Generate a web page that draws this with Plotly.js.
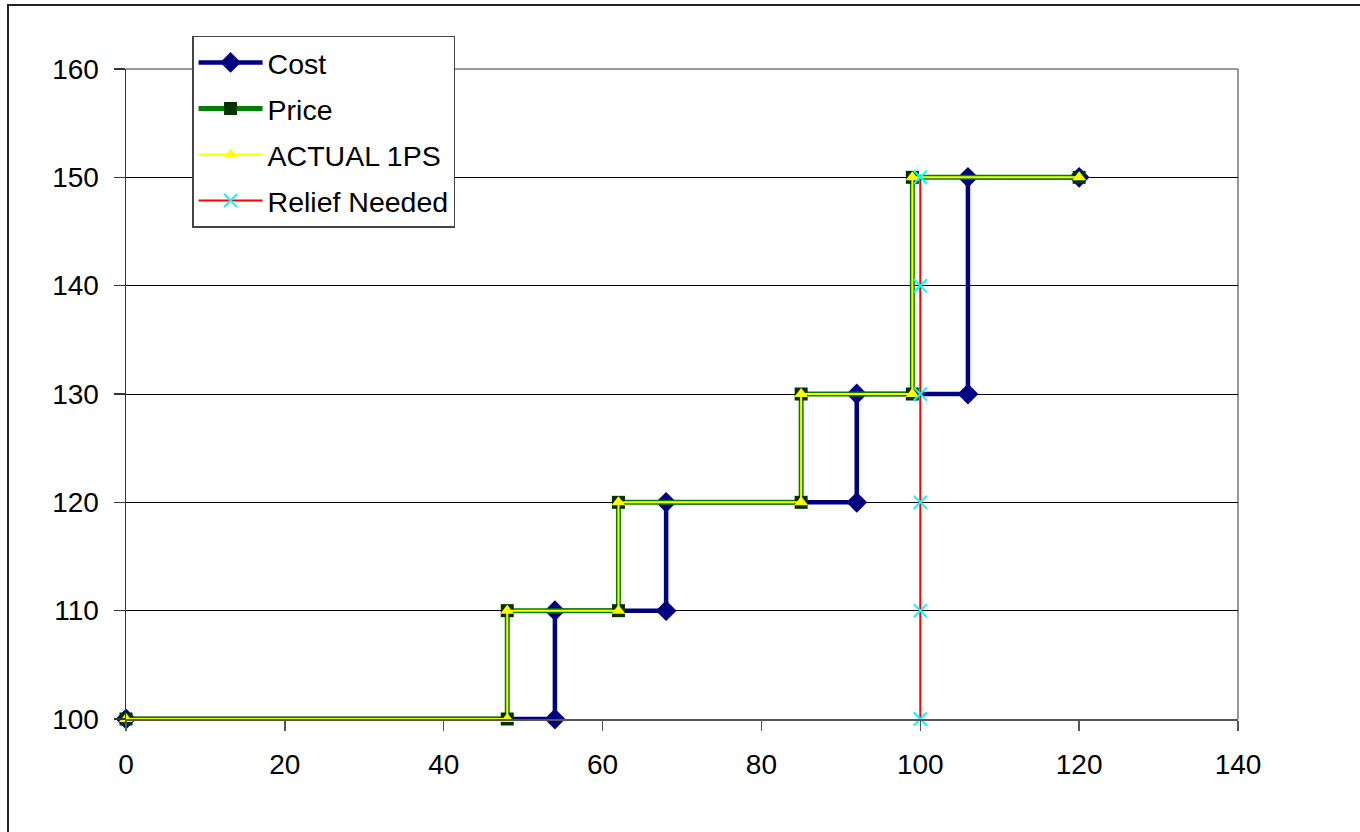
<!DOCTYPE html>
<html>
<head>
<meta charset="utf-8">
<script src="https://cdn.plot.ly/plotly-3.0.1.min.js"></script>
<style>
  html, body { margin: 0; padding: 0; background: #ffffff; overflow: hidden; }
  #chart { position: absolute; left: 0; top: 0; width: 1360px; height: 832px; }
  #frame { position: absolute; left: 7px; top: 4px; width: 1400px; height: 900px;
           border: 2px solid #222222; pointer-events: none; }
</style>
</head>
<body>
<div id="chart"></div>
<div id="frame"></div>
<script>
// ---- data ----
const costX  = [0, 54, 54, 68, 68, 92, 92, 106, 106, 120];
const costY  = [100, 100, 110, 110, 120, 120, 130, 130, 150, 150];
const priceX = [0, 48, 48, 62, 62, 85, 85, 99, 99, 120];
const priceY = [100, 100, 110, 110, 120, 120, 130, 130, 150, 150];
const actualX = [0, 48, 48, 62, 62, 85, 85, 99, 99, 120];
const actualY = [100, 100, 110, 110, 120, 120, 130, 130, 150, 150];
const reliefX = [100, 100, 100, 100, 100, 100];
const reliefY = [100, 110, 120, 130, 140, 150];
const seriesNames = ["Cost", "Price", "ACTUAL 1PS", "Relief Needed"];
const xTicks = [0, 20, 40, 60, 80, 100, 120, 140];
const yTicks = [100, 110, 120, 130, 140, 150, 160];

const FONT = "Liberation Sans, Arial, sans-serif";

const traces = [
  {
    x: costX, y: costY, name: seriesNames[0], mode: "lines+markers", legendgroup: "g1",
    line: {color: "#000080", width: 4.5},
    marker: {symbol: "diamond", size: 16, color: "#000080"},
    cliponaxis: false
  },
  {
    x: priceX, y: priceY, name: seriesNames[1], mode: "lines+markers", legendgroup: "g2",
    line: {color: "#008000", width: 5},
    marker: {symbol: "square", size: 13, color: "#003300"},
    cliponaxis: false
  },
  {
    x: actualX, y: actualY, name: seriesNames[2], mode: "lines+markers", legendgroup: "g3",
    line: {color: "#FFFF00", width: 2},
    marker: {symbol: "triangle-up", size: 12, color: "#FFFF00"},
    cliponaxis: false
  },
  {
    x: reliefX, y: reliefY, name: seriesNames[3], mode: "lines+markers", legendgroup: "g4",
    line: {color: "#FF0000", width: 2},
    marker: {symbol: "x-thin", size: 13, line: {color: "#00FFFF", width: 2}, color: "#00FFFF"},
    cliponaxis: false
  }
];

const layout = {
  width: 1360, height: 832,
  margin: {l: 126, r: 122, t: 69, b: 113, pad: 0},
  paper_bgcolor: "#ffffff",
  plot_bgcolor: "#ffffff",
  font: {family: FONT, size: 28, color: "#000000"},
  showlegend: true,
  legend: {
    x: 0.0594, y: 1.051, xanchor: "left", yanchor: "top",
    bgcolor: "#ffffff", bordercolor: "#444444", borderwidth: 1.5,
    font: {family: FONT, size: 28.5, color: "#000000"},
    itemwidth: 64, tracegroupgap: 6, traceorder: "grouped"
  },
  xaxis: {
    range: [0, 140], tickvals: xTicks, ticktext: xTicks.map(String),
    showgrid: false, zeroline: false,
    showline: true, linecolor: "#555555", linewidth: 1.5, mirror: false,
    ticks: "outside", ticklen: 10, tickcolor: "#555555", tickwidth: 1.5,
    tickfont: {family: FONT, size: 28, color: "#000000"},
    ticklabelstandoff: 10
  },
  yaxis: {
    range: [100, 160], tickvals: yTicks, ticktext: yTicks.map(String),
    showgrid: true, gridcolor: "#000000", gridwidth: 1,
    zeroline: false,
    showline: true, linecolor: "#333333", linewidth: 1.5,
    ticks: "outside", ticklen: 11, tickcolor: "#333333", tickwidth: 1.5,
    tickfont: {family: FONT, size: 28, color: "#000000"},
    ticklabelstandoff: 9
  },
  shapes: [
    {type: "line", xref: "paper", yref: "paper", x0: 1, x1: 1, y0: 0, y1: 1,
     line: {color: "#777777", width: 1.5}, layer: "below"},
    {type: "line", xref: "paper", yref: "paper", x0: 0, x1: 1, y0: 1, y1: 1,
     line: {color: "#777777", width: 1.5}, layer: "below"}
  ]
};

Plotly.newPlot("chart", traces, layout, {displayModeBar: false, staticPlot: true});
</script>
</body>
</html>
